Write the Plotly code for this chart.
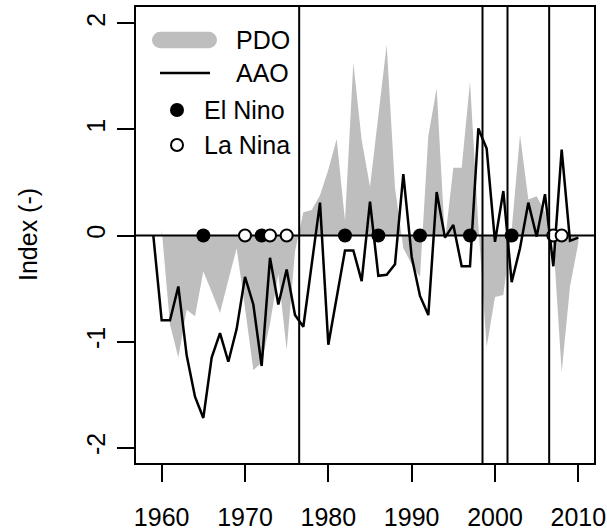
import plotly.graph_objects as go

aao_years = list(range(1959, 2011))
aao = [0.00, -0.80, -0.80, -0.48, -1.13, -1.52, -1.72, -1.15, -0.92, -1.19,
       -0.88, -0.39, -0.65, -1.23, -0.21, -0.65, -0.32, -0.75, -0.86, -0.28,
       0.31, -1.03, -0.58, -0.14, -0.14, -0.43, 0.32, -0.38, -0.37, -0.27,
       0.58, -0.20, -0.57, -0.75, 0.41, -0.02, 0.10, -0.29, -0.29, 1.01,
       0.82, -0.06, 0.42, -0.44, -0.12, 0.31, -0.01, 0.39, -0.29, 0.81,
       -0.05, -0.02]

pdo_years = list(range(1960, 2011))
pdo = [0.06, -0.84, -1.15, -0.70, -0.76, -0.34, -0.53, -0.73, -0.42, -0.12,
       -0.68, -1.27, -1.20, -0.83, -0.36, -1.08, -0.15, 0.22, 0.24, 0.38,
       0.62, 0.91, 0.14, 1.63, 0.90, 0.46, 1.13, 1.80, 0.45, -0.12,
       -0.27, -0.39, 0.94, 1.39, -0.05, 0.64, 0.64, 1.45, 0.10, -1.05,
       -0.58, -0.56, 0.05, 0.95, 0.34, 0.37, 0.22, -0.05, -1.29, -0.48,
       -0.07]

el_nino = [1965, 1972, 1982, 1986, 1991, 1997, 2002]
la_nina = [1970, 1973, 1975, 2007, 2008]
breaks = [1976.5, 1998.5, 2001.5, 2006.5]

x_ticks = [1960, 1970, 1980, 1990, 2000, 2010]
y_ticks = [-2, -1, 0, 1, 2]
y_tick_text = ["-2", "-1", "0", "1", "2"]

legend_labels = ["PDO", "AAO", "El Nino", "La Nina"]

XR = [1956.92, 2011.88]
YR = [-2.145, 2.155]
GRAY = "#bebebe"
FONT = "Liberation Sans"
FS = 25

L, T, W, H = 136, 7, 458, 456


def px(x):
    return (x - L) / W


def py(y):
    return (T + H - y) / H


fig = go.Figure()
fig.add_trace(go.Scatter(x=pdo_years, y=pdo, mode="none", fill="tozeroy",
                         fillcolor=GRAY, hoverinfo="skip"))
fig.add_trace(go.Scatter(x=aao_years, y=aao, mode="lines",
                         line=dict(color="black", width=2.5)))
fig.add_trace(go.Scatter(x=XR, y=[0, 0], mode="lines",
                         line=dict(color="black", width=2)))
fig.add_trace(go.Scatter(x=el_nino, y=[0] * len(el_nino), mode="markers",
                         marker=dict(symbol="circle", size=14, color="black",
                                     line=dict(width=0))))
fig.add_trace(go.Scatter(x=la_nina, y=[0] * len(la_nina), mode="markers",
                         marker=dict(symbol="circle", size=12, color="white",
                                     line=dict(color="black", width=2))))

shapes = []
for b in breaks:
    shapes.append(dict(type="line", xref="x", yref="paper", x0=b, x1=b,
                       y0=0, y1=1, line=dict(color="black", width=2)))

# legend symbols
r = 8.3
shapes.append(dict(type="rect", xref="paper", yref="paper",
                   x0=px(152 + r), x1=px(217 - r), y0=py(40 + r), y1=py(40 - r),
                   fillcolor=GRAY, line=dict(width=0)))
for cx in (152 + r, 217 - r):
    shapes.append(dict(type="circle", xref="paper", yref="paper",
                       x0=px(cx - r), x1=px(cx + r), y0=py(40 + r), y1=py(40 - r),
                       fillcolor=GRAY, line=dict(width=0)))
shapes.append(dict(type="line", xref="paper", yref="paper",
                   x0=px(160), x1=px(210), y0=py(73), y1=py(73),
                   line=dict(color="black", width=2.5)))
rc = 7
shapes.append(dict(type="circle", xref="paper", yref="paper",
                   x0=px(177 - rc), x1=px(177 + rc), y0=py(110 + rc), y1=py(110 - rc),
                   fillcolor="black", line=dict(width=0)))
rc = 6
shapes.append(dict(type="circle", xref="paper", yref="paper",
                   x0=px(177 - rc), x1=px(177 + rc), y0=py(145 + rc), y1=py(145 - rc),
                   fillcolor="white", line=dict(color="black", width=2)))

annotations = []
leg_pos = [(234, 40), (234, 73), (202, 110), (202, 145)]
for lab, (lx, ly) in zip(legend_labels, leg_pos):
    annotations.append(dict(text=lab, xref="paper", yref="paper", x=px(lx), y=py(ly),
                            xanchor="left", yanchor="middle", showarrow=False,
                            font=dict(family=FONT, size=FS, color="black")))
annotations.append(dict(text="Index (-)", xref="paper", yref="paper", x=px(28), y=0.5,
                        xanchor="center", yanchor="middle", textangle=-90,
                        showarrow=False, font=dict(family=FONT, size=FS, color="black")))

fig.update_layout(
    width=607, height=530,
    margin=dict(l=L, r=607 - L - W, t=T, b=530 - T - H, autoexpand=False),
    plot_bgcolor="white", paper_bgcolor="white",
    showlegend=False,
    shapes=shapes, annotations=annotations,
    xaxis=dict(range=XR, tickvals=x_ticks, ticks="outside", ticklen=17, tickwidth=2,
               tickcolor="black", showline=True, mirror=True, linecolor="black",
               linewidth=2, showgrid=False, zeroline=False, ticklabelstandoff=14,
               automargin=False,
               tickfont=dict(family=FONT, size=FS, color="black")),
    yaxis=dict(range=YR, tickvals=y_ticks, ticktext=y_tick_text, tickangle=-90,
               ticks="outside", ticklen=17, tickwidth=2, tickcolor="black",
               showline=True, mirror=True, linecolor="black", linewidth=2,
               showgrid=False, zeroline=False, ticklabelstandoff=2,
               automargin=False,
               tickfont=dict(family=FONT, size=FS, color="black")),
)

fig.write_html("out.html")
